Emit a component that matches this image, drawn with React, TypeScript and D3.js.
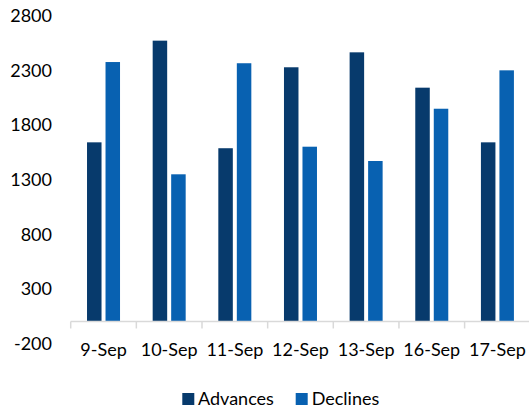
import React from "react";
import * as d3 from "d3";

const categories = ["9-Sep", "10-Sep", "11-Sep", "12-Sep", "13-Sep", "16-Sep", "17-Sep"];
const advances = [1642, 2574, 1588, 2330, 2467, 2143, 1642];
const declines = [2378, 1349, 2367, 1602, 1471, 1950, 2302];
const yTicks = [-200, 300, 800, 1300, 1800, 2300, 2800];
const seriesNames = ["Advances", "Declines"];
const colors = ["#073a6c", "#0861b1"];

export default function App() {
  const W = 529, H = 408;
  const x0 = 70.7, x1 = 70.7 + 65.65 * 7;
  const y = d3.scaleLinear().domain([-200, 2800]).range([343.3, 16]);
  const x = d3.scaleBand().domain(categories).range([x0, x1]).paddingInner(0).paddingOuter(0);
  const barW = 14.5, gap = 4;
  const font = "Lato, 'Open Sans', sans-serif";
  const fs = 18;
  const series = [advances, declines];
  return (
    <svg width={W} height={H} style={{ position: "absolute", left: 0, top: 0 }}>
      <rect width={W} height={H} fill="#fff" />
      {yTicks.map((t) => (
        <text key={t} x={52} y={y(t)} dy="0.35em" textAnchor="end" fontFamily={font} fontSize={fs} fill="#000">
          {t}
        </text>
      ))}
      {categories.map((c, i) => {
        const cx = x(c)! + x.bandwidth() / 2;
        return (
          <g key={c}>
            {series.map((s, k) => {
              const bx = cx - (barW * 2 + gap) / 2 + k * (barW + gap);
              return (
                <rect key={k} x={bx} y={y(s[i])} width={barW} height={y(0) - y(s[i])} fill={colors[k]} />
              );
            })}
            <text x={cx} y={356} textAnchor="middle" fontFamily={font} fontSize={fs} fill="#000">
              {c}
            </text>
          </g>
        );
      })}
      <line x1={x0} x2={x1} y1={y(0)} y2={y(0)} stroke="#d9d9d9" strokeWidth={1.5} />
      {d3.range(categories.length + 1).map((i) => {
        const tx = x0 + i * x.bandwidth();
        return <line key={i} x1={tx} x2={tx} y1={y(0)} y2={y(0) + 7} stroke="#d9d9d9" strokeWidth={1.5} />;
      })}
      <g>
        <rect x={182.3} y={393} width={12} height={12} fill={colors[0]} />
        <text x={198} y={405} fontFamily={font} fontSize={fs} fill="#000">{seriesNames[0]}</text>
        <rect x={295.7} y={393} width={12} height={12} fill={colors[1]} />
        <text x={311.7} y={405} fontFamily={font} fontSize={fs} fill="#000">{seriesNames[1]}</text>
      </g>
    </svg>
  );
}
